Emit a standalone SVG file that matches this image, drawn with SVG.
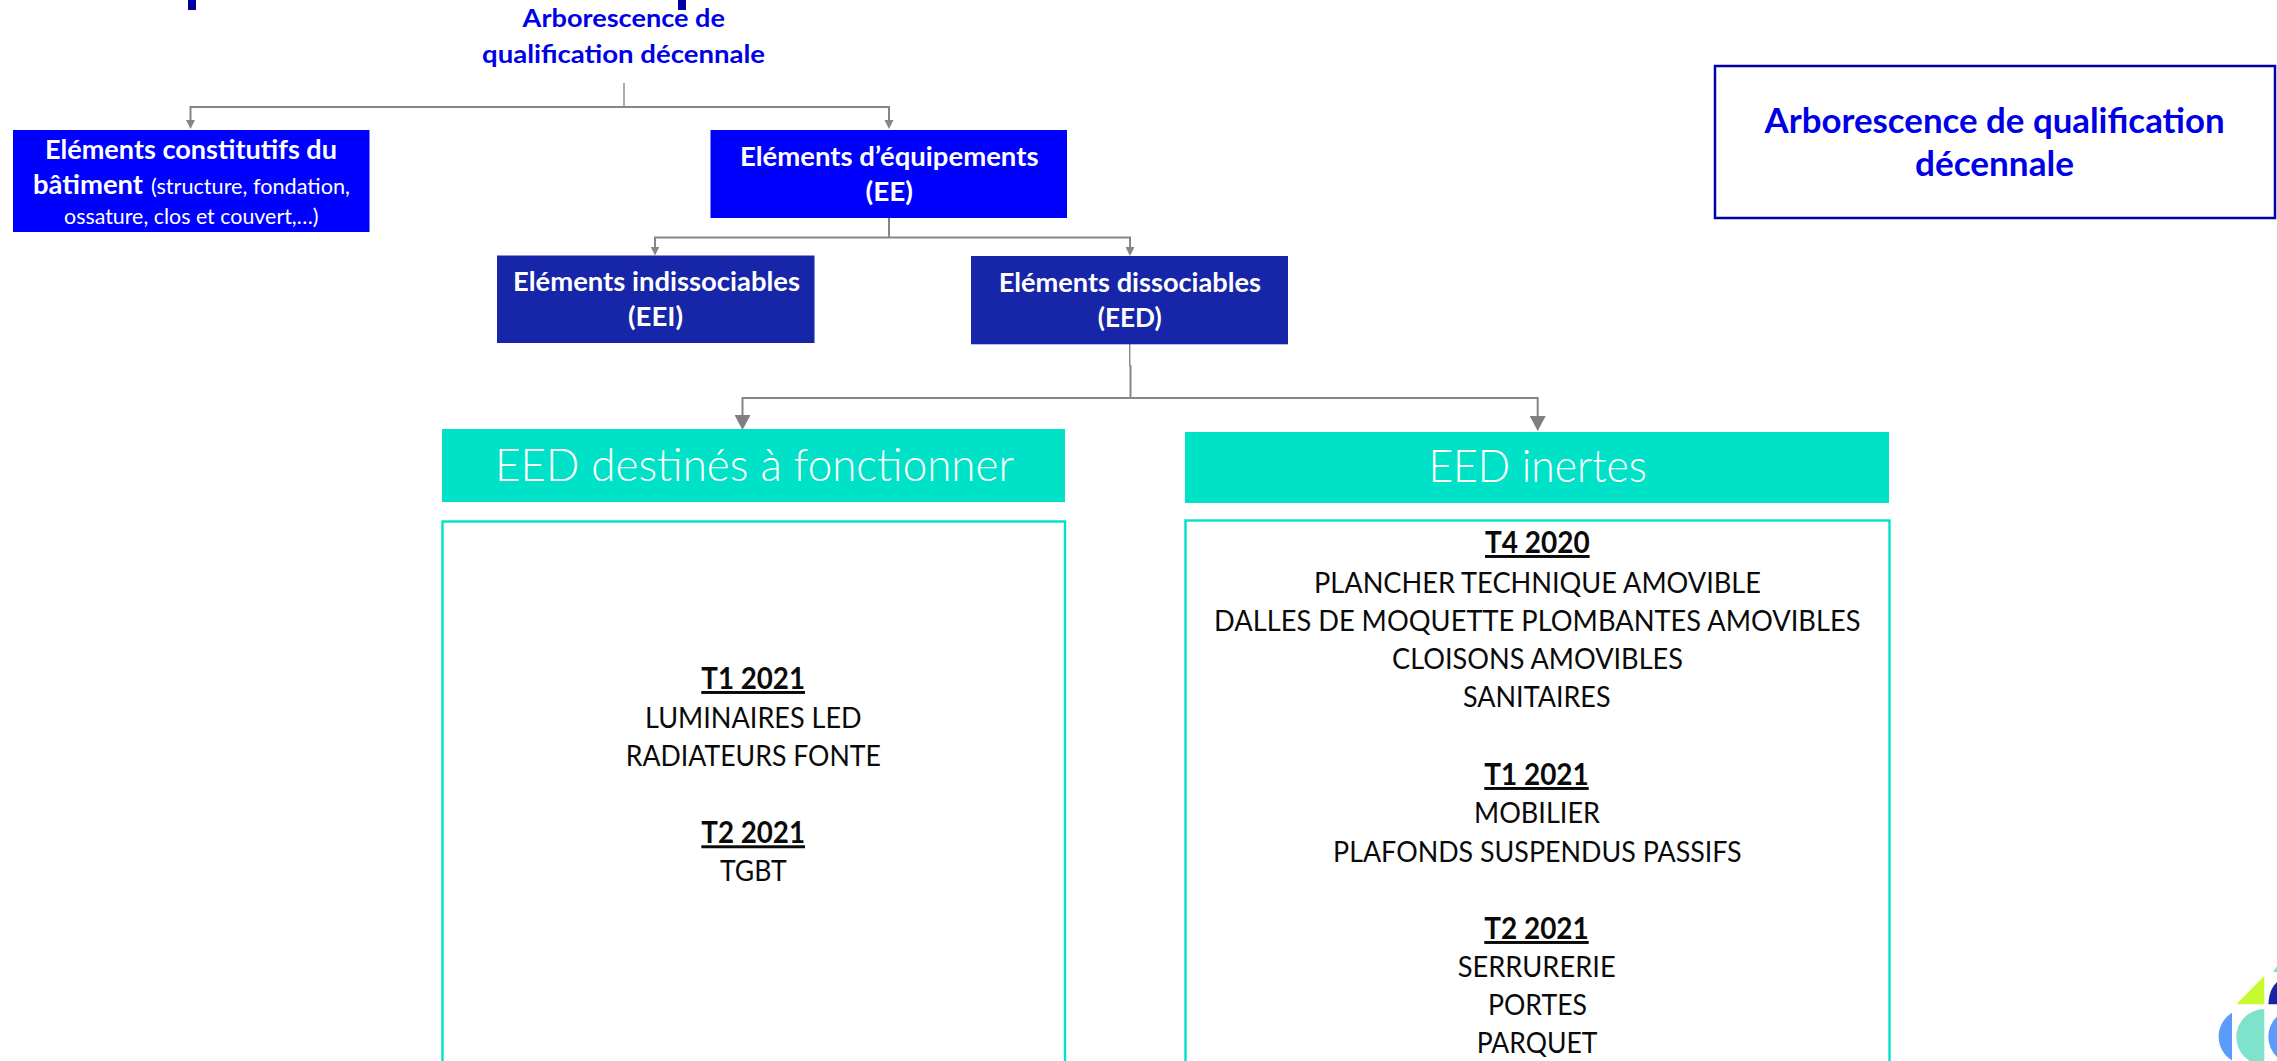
<svg xmlns="http://www.w3.org/2000/svg" width="2277" height="1061" viewBox="0 0 2277 1061">
<style>
text{font-family:Lato,"Open Sans","Liberation Sans",sans-serif}
.b{font-weight:700}
.white{fill:#fff}
.blue{fill:#0000e6}
.nn{font-size:26.5px}
.sm{font-size:20.5px;font-weight:400}
.head{font-size:46px;font-weight:300;fill:#fff}
.li{font-size:29.5px;fill:#0a0a0a}
.t{font-size:29.5px;font-weight:700;fill:#0a0a0a;text-decoration:underline}
.bright{fill:#0000ff}.navy{fill:#1725a8}.teal{fill:#00e2c7}
.frame{fill:#fff;stroke:#00e2c7;stroke-width:2.4}
.c{fill:none;stroke:#868686;stroke-width:2}
.thin{fill:none;stroke:#868686;stroke-width:1.4}
</style>
<defs>
<marker id="a" markerUnits="userSpaceOnUse" markerWidth="10" markerHeight="10" refX="6" refY="4.5" orient="auto"><path d="M0 0L9 4.5L0 9z" fill="#868686"/></marker>
<marker id="A" markerUnits="userSpaceOnUse" markerWidth="16" markerHeight="16" refX="11" refY="8" orient="auto"><path d="M0 0L15 8L0 16z" fill="#808080"/></marker>
</defs>
<rect width="2277" height="1061" fill="#fff"/>
<g id="title-fragments" fill="#0000a0"><rect x="188" y="0" width="8" height="10"/><rect x="678" y="0" width="8" height="10"/></g>
<g id="connectors">
<path class="thin" d="M624 83V107"/>
<path class="c" marker-end="url(#a)" d="M889 107H190.5V126"/>
<path class="c" marker-end="url(#a)" d="M624 107H889V126"/>
<path class="c" d="M889 218V237.5"/>
<path class="c" marker-end="url(#a)" d="M889 237.5H655V252.5"/>
<path class="c" marker-end="url(#a)" d="M889 237.5H1130V253"/>
<path class="thin" d="M1129.7 344V366"/>
<path class="c" marker-end="url(#A)" d="M1130.5 365V398H742.5V426"/>
<path class="c" marker-end="url(#A)" d="M1130.5 398H1537.7V427"/>
</g>
<g id="root"><text class="b blue" font-size="25" x="522.6" y="27" textLength="202.4" lengthAdjust="spacingAndGlyphs">Arborescence de</text><text class="b blue" font-size="25" x="482" y="63" textLength="283" lengthAdjust="spacingAndGlyphs">qualification décennale</text></g>
<g id="batiment"><rect class="bright" x="13" y="130" width="356.5" height="102"/>
<text class="b white nn" x="45" y="158.7" textLength="292" lengthAdjust="spacingAndGlyphs">Eléments constitutifs du</text>
<text class="b white nn" x="33" y="194" textLength="110" lengthAdjust="spacingAndGlyphs">bâtiment</text>
<text class="white sm" x="151" y="194" textLength="199" lengthAdjust="spacingAndGlyphs">(structure, fondation,</text>
<text class="white sm" x="64" y="224" textLength="254.5" lengthAdjust="spacingAndGlyphs">ossature, clos et couvert,…)</text></g>
<g id="ee"><rect class="bright" x="710.5" y="130" width="356.5" height="88"/>
<text class="b white nn" x="740" y="165.7" textLength="298.5" lengthAdjust="spacingAndGlyphs">Eléments d’équipements</text>
<text class="b white nn" x="865.5" y="201" textLength="47.5" lengthAdjust="spacingAndGlyphs">(EE)</text></g>
<g id="eei"><rect class="navy" x="497" y="255.5" width="317.5" height="87.5"/>
<text class="b white nn" x="513" y="291" textLength="287" lengthAdjust="spacingAndGlyphs">Eléments indissociables</text>
<text class="b white nn" x="628" y="326" textLength="55" lengthAdjust="spacingAndGlyphs">(EEI)</text></g>
<g id="eed"><rect class="navy" x="971" y="256" width="317" height="88.3"/>
<text class="b white nn" x="998.7" y="291.7" textLength="262.3" lengthAdjust="spacingAndGlyphs">Eléments dissociables</text>
<text class="b white nn" x="1097.7" y="326.7" textLength="64" lengthAdjust="spacingAndGlyphs">(EED)</text></g>
<g id="eed-fonctionner"><rect class="teal" x="442" y="429" width="623" height="73"/>
<text class="head" x="495" y="481" textLength="519" lengthAdjust="spacingAndGlyphs">EED destinés à fonctionner</text></g>
<g id="eed-inertes"><rect class="teal" x="1185" y="432" width="704" height="71"/>
<text class="head" x="1428.4" y="481.7" textLength="218.6" lengthAdjust="spacingAndGlyphs">EED inertes</text></g>
<g id="list-fonctionner"><rect class="frame" x="442.5" y="521.5" width="622.5" height="560"/>
<text class="t" x="701.3" y="689" textLength="103.7" lengthAdjust="spacingAndGlyphs">T1 2021</text>
<text class="li" x="645" y="728" textLength="216.7" lengthAdjust="spacingAndGlyphs">LUMINAIRES LED</text>
<text class="li" x="625.7" y="766" textLength="255.3" lengthAdjust="spacingAndGlyphs">RADIATEURS FONTE</text>
<text class="t" x="701.3" y="843.3" textLength="103.7" lengthAdjust="spacingAndGlyphs">T2 2021</text>
<text class="li" x="720" y="881" textLength="66.7" lengthAdjust="spacingAndGlyphs">TGBT</text></g>
<g id="list-inertes"><rect class="frame" x="1185.5" y="520.5" width="704" height="560"/>
<text class="t" x="1485" y="553" textLength="104.6" lengthAdjust="spacingAndGlyphs">T4 2020</text>
<text class="li" x="1314" y="592.7" textLength="447" lengthAdjust="spacingAndGlyphs">PLANCHER TECHNIQUE AMOVIBLE</text>
<text class="li" x="1214" y="630.7" textLength="646.5" lengthAdjust="spacingAndGlyphs">DALLES DE MOQUETTE PLOMBANTES AMOVIBLES</text>
<text class="li" x="1392" y="669" textLength="291" lengthAdjust="spacingAndGlyphs">CLOISONS AMOVIBLES</text>
<text class="li" x="1463" y="707" textLength="147.5" lengthAdjust="spacingAndGlyphs">SANITAIRES</text>
<text class="t" x="1484.3" y="785" textLength="104.4" lengthAdjust="spacingAndGlyphs">T1 2021</text>
<text class="li" x="1474" y="822.7" textLength="126" lengthAdjust="spacingAndGlyphs">MOBILIER</text>
<text class="li" x="1333" y="861.7" textLength="408.7" lengthAdjust="spacingAndGlyphs">PLAFONDS SUSPENDUS PASSIFS</text>
<text class="t" x="1484.3" y="939" textLength="104.4" lengthAdjust="spacingAndGlyphs">T2 2021</text>
<text class="li" x="1457.7" y="976.7" textLength="158" lengthAdjust="spacingAndGlyphs">SERRURERIE</text>
<text class="li" x="1488" y="1014.7" textLength="99" lengthAdjust="spacingAndGlyphs">PORTES</text>
<text class="li" x="1476.7" y="1053" textLength="120.8" lengthAdjust="spacingAndGlyphs">PARQUET</text></g>
<g id="legend"><rect x="1715" y="66" width="560" height="152" fill="#fff" stroke="#0000a8" stroke-width="2.5"/>
<text class="b blue" font-size="35" x="1764.6" y="133" textLength="460" lengthAdjust="spacingAndGlyphs">Arborescence de qualification</text>
<text class="b blue" font-size="35" x="1915" y="176" textLength="159" lengthAdjust="spacingAndGlyphs">décennale</text></g>
<g id="logo">
<path d="M2277 966L2273 972H2277z" fill="#7fe3cc"/>
<path d="M2264.3 976V1004.3H2236.3z" fill="#c8f931"/>
<path d="M2268.3 1004.3Q2269 989 2277 982V1004.3z" fill="#1725a8"/>
<path d="M2232 1012.7A28 28 0 0 0 2232 1060.5z" fill="#5b9bfb"/>
<path d="M2264.3 1009A28 28 0 0 0 2264.3 1065z" fill="#7fe3cc"/>
<path d="M2277 1016.4A28 28 0 0 0 2277 1057z" fill="#5b9bfb"/>
</g>
</svg>
